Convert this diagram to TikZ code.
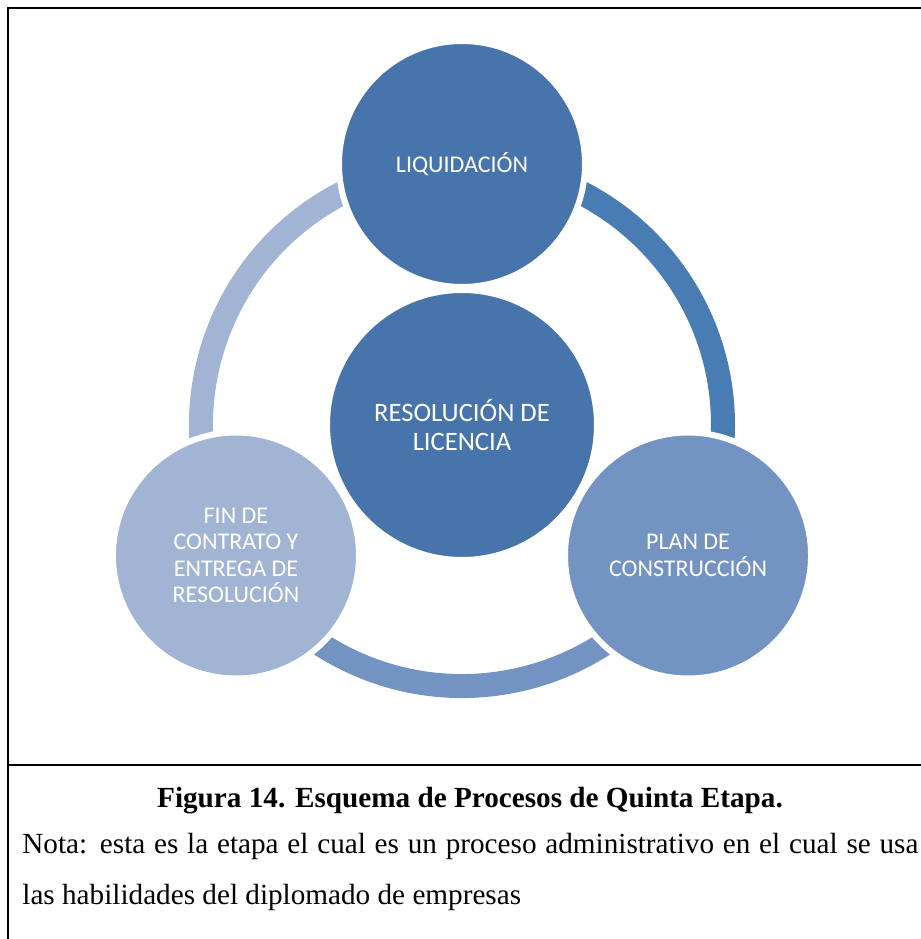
\documentclass[tikz,border=0pt]{standalone}
\usepackage{fontspec}
\setmainfont{Liberation Serif}
\newfontfamily\circulo{Carlito}
\definecolor{azul}{RGB}{71,116,170}
\definecolor{azularco}{RGB}{74,124,180}
\definecolor{azulmedio}{RGB}{115,148,194}
\definecolor{azulclaro}{RGB}{162,180,212}
\tikzset{
  etapa/.style={circle, minimum size=123pt, inner sep=0pt, draw=white, line width=3pt,
    text=white, align=center, font=\circulo\fontsize{12}{13.2}\selectfont},
  arco/.style={line width=12pt},
}
\begin{document}
\begin{tikzpicture}[x=0.5pt, y=0.5pt]
  \useasboundingbox (0,0) rectangle (921,939);
  % marco
  \draw[line width=1.2pt] (8,0) -- (8,931) -- (921,931);
  \draw[line width=1.2pt] (8,174) -- (921,174);
  \coordinate (ctr) at (462,514);
  \coordinate (p1) at ([shift={(90:261)}]ctr);
  \coordinate (p2) at ([shift={(-30:261)}]ctr);
  \coordinate (p3) at ([shift={(210:261)}]ctr);
  % arcos del ciclo
  \draw[arco, azularco] (p1) arc[start angle=90, end angle=-30, radius=261];
  \draw[arco, azulmedio] (p2) arc[start angle=-30, end angle=-150, radius=261];
  \draw[arco, azulclaro] (p3) arc[start angle=210, end angle=90, radius=261];
  % etapas
  \node[etapa, fill=azul] (liq) at (p1) {LIQUIDACIÓN};
  \node[etapa, fill=azulmedio] (plan) at (p2) {PLAN DE\\CONSTRUCCIÓN};
  \node[etapa, fill=azulclaro] (fin) at (p3) {FIN DE\\CONTRATO Y\\ENTREGA DE\\RESOLUCIÓN};
  \node[etapa, fill=azul, minimum size=135pt, font=\circulo\fontsize{13.3}{14.5}\selectfont] (res) at (ctr) {RESOLUCIÓN DE\\LICENCIA};
  % pie de figura
  \node[anchor=base, font=\bfseries\fontsize{14.6}{17}\selectfont] (titulo) at (470,131) {Figura 14. Esquema de Procesos de Quinta Etapa.};
  \node[anchor=base west, inner sep=0pt, text width=448pt, align=justify, font=\fontsize{14.6}{25.5}\selectfont] (nota) at (22,85)
    {Nota: esta es la etapa el cual es un proceso administrativo en el cual se usa\linebreak las habilidades del diplomado de empresas};
\end{tikzpicture}
\end{document}
